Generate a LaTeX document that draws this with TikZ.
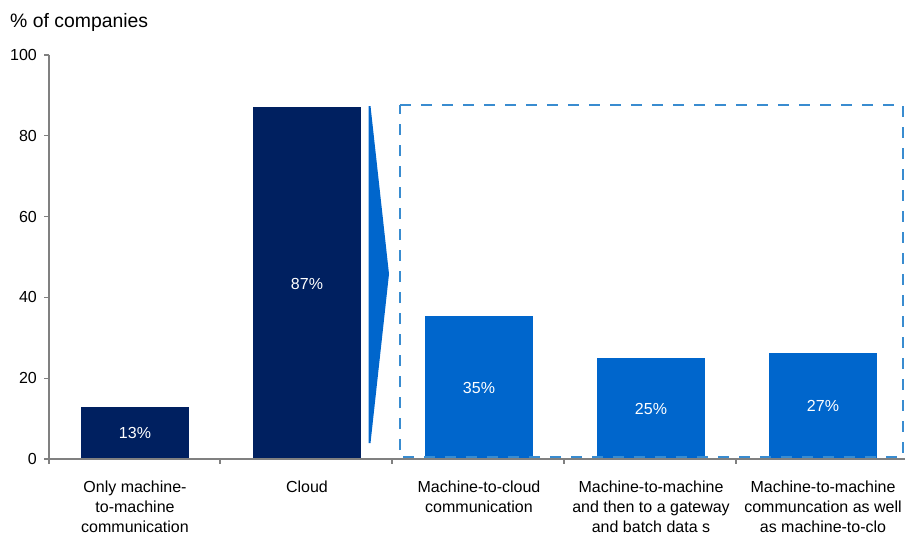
\documentclass[tikz,border=0pt]{standalone}
\usepackage{fontspec}
\setmainfont{Liberation Sans}
\definecolor{navy}{RGB}{0,32,96}
\definecolor{barblue}{RGB}{0,102,204}
\definecolor{dashblue}{RGB}{57,140,208}
\definecolor{axisgray}{RGB}{128,128,128}
\begin{document}
\begin{tikzpicture}[x=1pt,y=-1pt,
  axisline/.style={draw=axisgray,line width=1.2pt},
  ticklbl/.style={anchor=east,inner sep=0pt,font=\fontsize{16}{19}\selectfont},
  catlbl/.style={anchor=north,inner sep=0pt,align=center,font=\fontsize{16}{20}\selectfont},
  barlbl/.style={text=white,inner sep=0pt,font=\fontsize{16}{20}\selectfont},
  darkbar/.style={fill=navy},
  bluebar/.style={fill=barblue}]
\useasboundingbox (0,0) rectangle (905,535);
% title
\node[anchor=base west,inner sep=0pt,font=\fontsize{19.4}{22}\selectfont] (title) at (10,28) {\% of companies};
% bars
\fill[darkbar] (81,406.5) rectangle (189,459);
\fill[darkbar] (253,107) rectangle (361,459);
\fill[bluebar] (425,316) rectangle (533,459);
\fill[bluebar] (597,358) rectangle (705,459);
\fill[bluebar] (769,353) rectangle (877,459);
% bar labels
\node[barlbl] (l1) at (135,433) {13\%};
\node[barlbl] (l2) at (307,284) {87\%};
\node[barlbl] (l3) at (479,388) {35\%};
\node[barlbl] (l4) at (651,409) {25\%};
\node[barlbl] (l5) at (823,406) {27\%};
% axes
\draw[axisline] (49,55) -- (49,464);
\draw[axisline] (49,459) -- (910,459);
\foreach \v/\yy in {0/459,20/378.2,40/297.4,60/216.6,80/135.8,100/55}{
  \draw[axisline] (44,\yy) -- (49,\yy);
  \node[ticklbl] at (37,\yy) {\v};
}
\foreach \xx in {220,392,564,736}{
  \draw[axisline] (\xx,459) -- (\xx,464);
}
% category labels
\node[catlbl] (c1) at (135,481) {Only machine-\\to-machine\\communication};
\node[catlbl] (c2) at (307,481) {Cloud};
\node[catlbl] (c3) at (479,481) {Machine-to-cloud\\communication};
\node[catlbl] (c4) at (651,481) {Machine-to-machine\\and then to a gateway\\and batch data s};
\node[catlbl] (c5) at (823,481) {Machine-to-machine\\communcation as well\\as machine-to-clo};
% arrow wedge
\fill[barblue] (368.5,106) -- (370.5,106) -- (389,274) -- (370.5,443) -- (368.5,443) -- cycle;
% dashed box
\draw[dashblue,line width=2.8pt,dash pattern=on 11pt off 10pt] (400,105) -- (903,105) -- (903,457) -- (400,457) -- cycle;
\end{tikzpicture}
\end{document}
